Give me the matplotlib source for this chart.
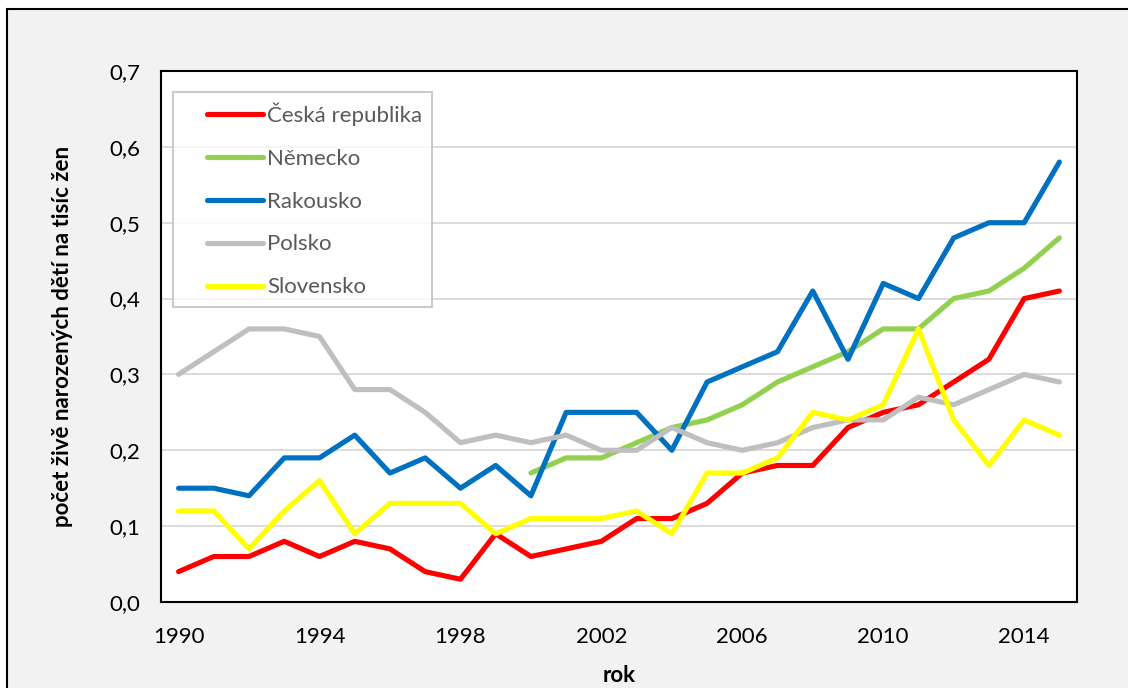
import matplotlib
matplotlib.use('Agg')
import matplotlib.pyplot as plt
from matplotlib.patches import Rectangle
from matplotlib.ticker import FuncFormatter

plt.rcParams['font.family'] = ['Lato', 'DejaVu Sans']

# data
years = list(range(1990, 2016))
cz = [0.04, 0.06, 0.06, 0.08, 0.06, 0.08, 0.07, 0.04, 0.03, 0.09, 0.06, 0.07, 0.08,
      0.11, 0.11, 0.13, 0.17, 0.18, 0.18, 0.23, 0.25, 0.26, 0.29, 0.32, 0.40, 0.41]
de_years = list(range(2000, 2016))
de = [0.17, 0.19, 0.19, 0.21, 0.23, 0.24, 0.26, 0.29, 0.31, 0.33, 0.36, 0.36, 0.40,
      0.41, 0.44, 0.48]
at = [0.15, 0.15, 0.14, 0.19, 0.19, 0.22, 0.17, 0.19, 0.15, 0.18, 0.14, 0.25, 0.25,
      0.25, 0.20, 0.29, 0.31, 0.33, 0.41, 0.32, 0.42, 0.40, 0.48, 0.50, 0.50, 0.58]
pl = [0.30, 0.33, 0.36, 0.36, 0.35, 0.28, 0.28, 0.25, 0.21, 0.22, 0.21, 0.22, 0.20,
      0.20, 0.23, 0.21, 0.20, 0.21, 0.23, 0.24, 0.24, 0.27, 0.26, 0.28, 0.30, 0.29]
sk = [0.12, 0.12, 0.07, 0.12, 0.16, 0.09, 0.13, 0.13, 0.13, 0.09, 0.11, 0.11, 0.11,
      0.12, 0.09, 0.17, 0.17, 0.19, 0.25, 0.24, 0.26, 0.36, 0.24, 0.18, 0.24, 0.22]
xticks = [1990, 1994, 1998, 2002, 2006, 2010, 2014]
yticks = [0.0, 0.1, 0.2, 0.3, 0.4, 0.5, 0.6, 0.7]

fig = plt.figure(figsize=(11.28, 6.88), dpi=100, facecolor='white')
frame = Rectangle((0.0065, -0.1), 2, 1.087, transform=fig.transFigure,
                  facecolor='#F2F2F2', edgecolor='black', lw=1.5)
frame.set_zorder(-10)
fig.add_artist(frame)
ax = fig.add_axes([0.1427, 0.125, 0.8121, 0.7718])
ax.set_facecolor('white')

lw = 3.7
ax.plot(years, cz, color='#FF0000', lw=lw, label='Česká republika', solid_capstyle='round')
ax.plot(de_years, de, color='#92D050', lw=lw, label='Německo', solid_capstyle='round')
ax.plot(years, at, color='#0070C0', lw=lw, label='Rakousko', solid_capstyle='round')
ax.plot(years, pl, color='#BFBFBF', lw=lw, label='Polsko', solid_capstyle='round')
ax.plot(years, sk, color='#FFFF00', lw=lw, label='Slovensko', solid_capstyle='round')

ax.set_xlim(1989.5, 2015.5)
ax.set_ylim(0, 0.7)
ax.set_xticks(xticks)
ax.set_yticks(yticks)
ax.yaxis.set_major_formatter(FuncFormatter(lambda v, p: ('%.1f' % v).replace('.', ',')))
ax.tick_params(length=0, labelsize=16, colors='black')
ax.tick_params(axis='x', pad=18)
ax.tick_params(axis='y', pad=15)
ax.grid(axis='y', color='#D9D9D9', lw=1.3)
ax.set_axisbelow(True)
for s in ax.spines.values():
    s.set_color('black')
    s.set_linewidth(1.5)

ax.set_xlabel('rok', fontsize=16, fontweight='bold', labelpad=13)
ax.set_ylabel('počet živě narozených dětí na tisíc žen', fontsize=16, fontweight='bold', labelpad=26)

leg = ax.legend(loc='upper left', bbox_to_anchor=(0.013, 0.96), borderaxespad=0,
                fontsize=16, frameon=True, fancybox=False, edgecolor='#BFBFBF',
                handlelength=3.6, handletextpad=0.18, labelspacing=1.03, borderpad=0.45)
leg.get_frame().set_linewidth(1.5)
for t in leg.get_texts():
    t.set_color('#595959')
# legend keys sit to the right, leaving an empty margin on the left as in Excel
for h in leg.legend_handles:
    xd = list(h.get_xdata())
    yd = list(h.get_ydata())
    x0, x1 = min(xd), max(xd)
    h.set_xdata([x1 - (x1 - x0) * 0.70, x1])
    h.set_ydata([yd[0], yd[0]])

fig.savefig('out.png', dpi=100, facecolor=fig.get_facecolor())
